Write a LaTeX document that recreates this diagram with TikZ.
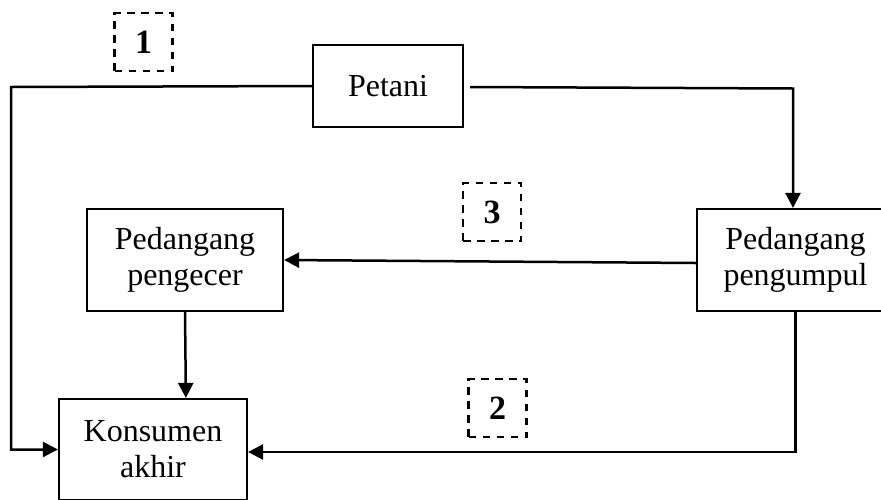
\documentclass[tikz,border=0pt]{standalone}
\usepackage{fontspec}
\setmainfont{Liberation Serif}
\usetikzlibrary{arrows.meta,calc}

\tikzset{
  box/.style={draw, line width=2.2pt, inner sep=0pt, align=center,
              font=\fontsize{32}{36}\selectfont},
  numbox/.style={draw, dashed, dash pattern=on 7.5pt off 6.5pt, line width=2.8pt,
                 minimum width=58pt, minimum height=58pt, inner sep=0pt,
                 font=\fontsize{34}{38}\selectfont\bfseries},
  link/.style={line width=2.5pt},
  arr/.style={link, -{Triangle[length=15pt,width=15pt]}}
}

\begin{document}
\begin{tikzpicture}[x=1pt,y=-1pt]
  \useasboundingbox (0,0) rectangle (881,499);

  % actors in the marketing channel
  \node[box, minimum width=150pt, minimum height=82pt] (petani) at (388,86) {Petani};
  \node[box, minimum width=196pt, minimum height=102pt] (pengecer) at (185,260) {Pedangang\\pengecer};
  \node[box, minimum width=197pt, minimum height=102pt] (pengumpul) at (795.5,260) {Pedangang\\pengumpul};
  \node[box, minimum width=188pt, minimum height=101pt] (konsumen) at (153,449.5) {Konsumen\\akhir};

  % channel numbers
  \node[numbox] (n1) at (143.5,42) {1};
  \node[numbox] (n3) at (492,212) {3};
  \node[numbox] (n2) at (497.5,408) {2};

  % channel 1: petani directly to the consumer
  \coordinate (c1) at (11,87);
  \draw[arr] (petani.west) -- (c1) |- (konsumen.west);

  % petani to the collecting trader
  \coordinate (c2) at (793,88.5);
  \draw[arr] ($(petani.east)+(6,1)$) -- (c2) -- (c2 |- pengumpul.north);

  % channel 3: collector to retailer
  \draw[arr] ($(pengumpul.west)+(0,3)$) -- (pengecer.east);

  % retailer to consumer
  \draw[arr] (pengecer.south) -- ($(konsumen.north west)+(128,0)$);

  % channel 2: collector directly to the consumer
  \draw[arr] (pengumpul.south) |- ($(konsumen.east)+(0,2.5)$);
\end{tikzpicture}
\end{document}
